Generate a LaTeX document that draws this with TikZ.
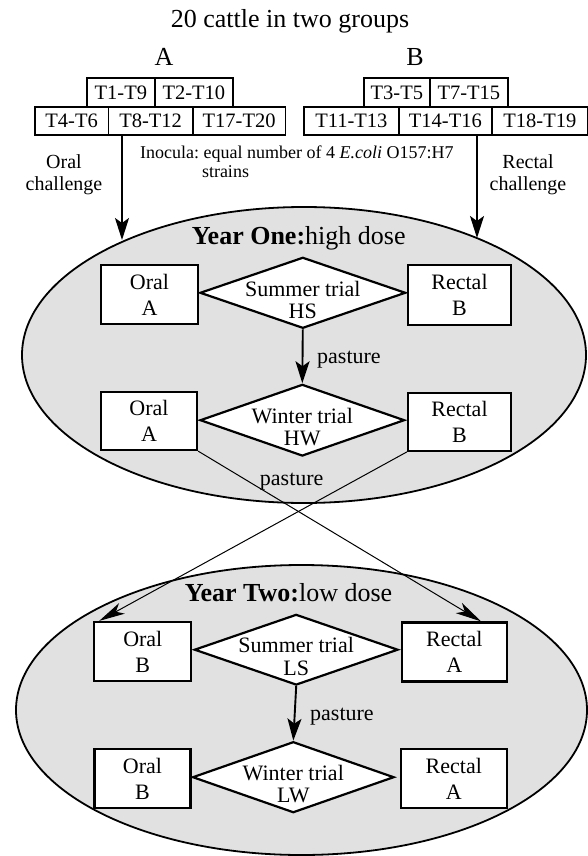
\documentclass[tikz,border=0pt]{standalone}
\usepackage{fontspec}
\setmainfont{Liberation Serif}
\usetikzlibrary{shapes.geometric,arrows.meta,calc}
\definecolor{ellgray}{HTML}{E1E1E1}
\newcommand\myfs[2]{\fontsize{#1pt}{#2pt}\selectfont}
\frenchspacing
\begin{document}
\begin{tikzpicture}[x=1pt,y=-1pt,
 tbox/.style={draw,line width=1.8pt,minimum height=28.5pt,inner sep=0pt,anchor=north west,font=\myfs{20.5}{22}},
 rbox/.style={draw,line width=2.2pt,fill=white,inner sep=0pt,align=center,font=\myfs{22}{26}},
 dia/.style={diamond,draw,line width=2.2pt,fill=white,inner sep=0pt},
 dtext/.style={align=center,inner sep=0pt,font=\myfs{22}{22.5}},
 lbl/.style={inner sep=0pt,font=\myfs{22}{24}},
 big/.style={ellipse,draw,line width=1.8pt,fill=ellgray,inner sep=0pt},
 bigarrow/.style={line width=1.9pt,-{Stealth[length=22pt,width=14pt,inset=5pt]}},
 crossarrow/.style={line width=1pt,-{Stealth[length=26pt,width=12pt,inset=7pt]}},
 ylabel/.style={anchor=base,inner sep=0pt,font=\myfs{26}{28}}
]
\useasboundingbox (0,0) rectangle (588,856);

% title and group letters
\node[anchor=base,inner sep=0pt,font=\myfs{26}{28}] (title) at (290,28) {20 cattle in two groups};
\node[anchor=base,inner sep=0pt,font=\myfs{26}{28}] (ga) at (164,65.7) {A};
\node[anchor=base,inner sep=0pt,font=\myfs{26}{28}] (gb) at (415,65.7) {B};

% group A boxes
\node[tbox,minimum width=68pt] (a1) at (86,77.3) {T1-T9};
\node[tbox,minimum width=78pt] (a2) at (154,77.3) {T2-T10};
\node[tbox,minimum width=73.5pt] (a3) at (34,105.8) {T4-T6};
\node[tbox,minimum width=84.5pt] (a4) at (107.5,105.8) {T8-T12};
\node[tbox,minimum width=92.5pt] (a5) at (192,105.8) {T17-T20};
% group B boxes
\node[tbox,minimum width=66pt] (b1) at (363,77.3) {T3-T5};
\node[tbox,minimum width=78pt] (b2) at (429,77.3) {T7-T15};
\node[tbox,minimum width=95pt] (b3) at (303,105.8) {T11-T13};
\node[tbox,minimum width=93pt] (b4) at (398,105.8) {T14-T16};
\node[tbox,minimum width=96pt] (b5) at (491,105.8) {T18-T19};

% side texts
\node[align=center,inner sep=0pt,font=\myfs{20}{22}] (oralch) at (64,174.4) {Oral\\challenge};
\node[align=center,inner sep=0pt,font=\myfs{20}{22}] (rectch) at (528,174.4) {Rectal\\challenge};
\node[anchor=base west,inner sep=0pt,font=\myfs{18}{19}] (inoc) at (140,158.3) {Inocula: equal number of 4 \textit{E.coli} O157:H7};
\node[anchor=base,inner sep=0pt,font=\myfs{18}{19}] (strains) at (225.5,177.3) {strains};

% ellipses
\node[big,minimum width=564pt,minimum height=296pt] (y1) at (304,355) {};
\node[big,minimum width=571pt,minimum height=290pt] (y2) at (301.5,710) {};

\node[ylabel] (y1lab) at (298.7,244) {\textbf{Year One:}high dose};
\node[ylabel] (y2lab) at (288.5,601) {\textbf{Year Two:}low dose};

% year one
\node[rbox,minimum width=97pt,minimum height=59pt] (oa1) at (149.5,294.5) {Oral\\A};
\node[dia,minimum width=205.7pt,minimum height=71pt] (hs) at (302.8,292.8) {};
\node[dtext] (hst) at (302.8,300) {Summer trial\\HS};
\node[rbox,minimum width=103pt,minimum height=60pt] (rb1) at (459.5,295) {Rectal\\B};

\node[rbox,minimum width=96pt,minimum height=58pt] (oa2) at (149,421) {Oral\\A};
\node[dia,minimum width=204.5pt,minimum height=71.7pt] (hw) at (302.3,420.2) {};
\node[dtext] (hwt) at (302.3,427) {Winter trial\\HW};
\node[rbox,minimum width=103pt,minimum height=58pt] (rb2) at (459.5,421.8) {Rectal\\B};

\node[lbl,anchor=base west] (past1) at (317,363) {pasture};
\node[lbl,anchor=base] (past2) at (291.7,485) {pasture};

% year two
\node[rbox,minimum width=97pt,minimum height=59pt] (ob1) at (142.8,651.5) {Oral\\B};
\node[dia,minimum width=203.7pt,minimum height=70.7pt] (ls) at (296.2,649.7) {};
\node[dtext] (lst) at (296.2,656.5) {Summer trial\\LS};
\node[rbox,minimum width=105pt,minimum height=59pt] (ra1) at (454.3,652) {Rectal\\A};

\node[rbox,minimum width=96pt,minimum height=59pt] (ob2) at (142.5,778.8) {Oral\\B};
\node[dia,minimum width=201.5pt,minimum height=71pt] (lw) at (293.3,777.2) {};
\node[dtext] (lwt) at (293.3,784) {Winter trial\\LW};
\node[rbox,minimum width=106pt,minimum height=59pt] (ra2) at (453.8,778.8) {Rectal\\A};

\node[lbl,anchor=base west] (past3) at (310,720) {pasture};

% connectors
\coordinate (tipA) at (122,240);
\coordinate (tipB) at (477,238);
\draw[bigarrow] (a4.south -| tipA) -- (tipA);
\draw[bigarrow] (b4.south -| tipB) -- (tipB);
\draw[bigarrow] (hs.south) -- (hw.north);
\draw[bigarrow] (ls.south) -- (lw.north);
\draw[crossarrow] (oa2.south east) -- ($(ra1.north west)!0.75!(ra1.north east)$);
\draw[crossarrow] (rb2.south west) -- ($(ob1.north west)!0.06!(ob1.north east)$);
\end{tikzpicture}
\end{document}
